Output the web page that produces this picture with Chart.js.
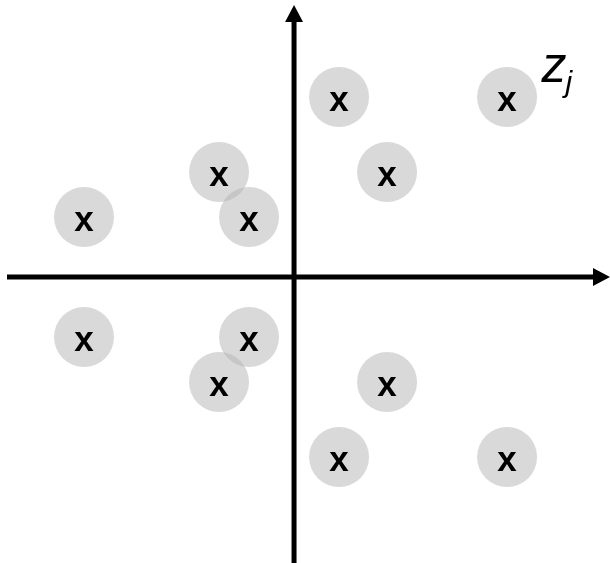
<!doctype html>
<html>

<head>
	<title>Points z_j</title>
	<script src="https://cdn.jsdelivr.net/npm/chart.js@4"></script>
	<style>
		html, body {
			margin: 0;
			padding: 0;
			background: #fff;
		}
		#wrap {
			width: 610px;
			height: 563px;
		}
	</style>
</head>

<body>
	<div id="wrap">
		<canvas id="canvas"></canvas>
	</div>
	<script>
		// point positions (origin at the axis crossing)
		const xValues = [1.5, 7.1, -2.5, 3.1, -7, -1.5, -7, -1.5, -2.5, 3.1, 1.5, 7.1];
		const yValues = [6, 6, 3.5, 3.5, 2, 2, -2, -2, -3.5, -3.5, -6, -6];
		const markText = 'x';
		const labelMain = 'z';
		const labelSub = 'j';
		const labelPos = [8.25, 6.5];

		const points = xValues.map((x, i) => ({x: x, y: yValues[i]}));

		const axesPlugin = {
			id: 'arrowAxes',
			beforeDatasetsDraw(chart) {
				const {ctx, chartArea, scales} = chart;
				const x0 = scales.x.getPixelForValue(0);
				const y0 = scales.y.getPixelForValue(0);
				ctx.save();
				ctx.strokeStyle = '#000';
				ctx.fillStyle = '#000';
				ctx.lineWidth = 5;

				// horizontal axis
				const right = chartArea.right;
				ctx.beginPath();
				ctx.moveTo(chartArea.left + 7, y0);
				ctx.lineTo(right - 14, y0);
				ctx.stroke();
				ctx.beginPath();
				ctx.moveTo(right, y0);
				ctx.lineTo(right - 17, y0 - 9);
				ctx.lineTo(right - 17, y0 + 9);
				ctx.closePath();
				ctx.fill();

				// vertical axis
				const top = chartArea.top + 5;
				ctx.beginPath();
				ctx.moveTo(x0, chartArea.bottom);
				ctx.lineTo(x0, top + 14);
				ctx.stroke();
				ctx.beginPath();
				ctx.moveTo(x0, top);
				ctx.lineTo(x0 - 9, top + 17);
				ctx.lineTo(x0 + 9, top + 17);
				ctx.closePath();
				ctx.fill();
				ctx.restore();
			},
			afterDatasetsDraw(chart) {
				const {ctx, scales} = chart;
				ctx.save();
				ctx.fillStyle = '#000';
				ctx.textAlign = 'center';
				ctx.textBaseline = 'alphabetic';
				ctx.font = 'bold 35px "Liberation Sans", Arial, sans-serif';
				chart.getDatasetMeta(0).data.forEach((el) => {
					ctx.fillText(markText, el.x, el.y + 14);
				});

				// z_j label
				const lx = scales.x.getPixelForValue(labelPos[0]);
				const ly = scales.y.getPixelForValue(labelPos[1]);
				ctx.textAlign = 'left';
				ctx.font = 'italic 50px "Liberation Sans", Arial, sans-serif';
				ctx.fillText(labelMain, lx, ly);
				const w = ctx.measureText(labelMain).width;
				ctx.font = 'italic 30px "Liberation Sans", Arial, sans-serif';
				ctx.fillText(labelSub, lx + w - 1, ly + 10);
				ctx.restore();
			}
		};

		const config = {
			type: 'scatter',
			data: {
				datasets: [{
					data: points,
					pointRadius: 30,
					pointHoverRadius: 30,
					pointBorderWidth: 0,
					backgroundColor: 'rgba(180, 180, 180, 0.5)',
					borderColor: 'rgba(0, 0, 0, 0)',
					clip: false
				}]
			},
			options: {
				responsive: true,
				maintainAspectRatio: false,
				animation: false,
				layout: {padding: 0, autoPadding: false},
				scales: {
					x: {type: 'linear', display: false, min: -9.8, max: 10.53},
					y: {type: 'linear', display: false, min: -9.53, max: 9.23}
				},
				plugins: {
					legend: {display: false},
					tooltip: {enabled: false}
				}
			},
			plugins: [axesPlugin]
		};

		window.onload = function() {
			const ctx = document.getElementById('canvas').getContext('2d');
			window.myChart = new Chart(ctx, config);
		};
	</script>
</body>

</html>
